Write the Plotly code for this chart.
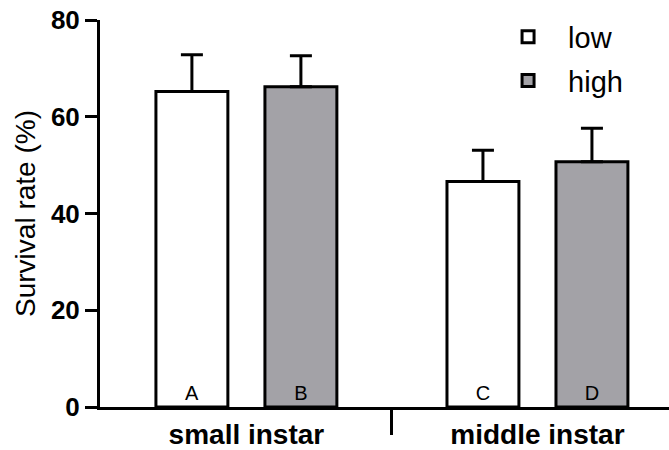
import plotly.graph_objects as go

groups = ["small instar", "middle instar"]
group_pos = [0, 1]
low_vals = [65.2, 46.6]
high_vals = [66.2, 50.7]
low_err = [7.6, 6.5]
high_err = [6.4, 6.9]
low_letters = ["A", "C"]
high_letters = ["B", "D"]
y_ticks = [0, 20, 40, 60, 80]
divider_pos = [0.5]

FONT = "Liberation Sans, Arial, sans-serif"

fig = go.Figure()
series = [
    ("low", low_vals, low_err, low_letters, "white"),
    ("high", high_vals, high_err, high_letters, "#a3a2a7"),
]
for name, vals, errs, letters, color in series:
    fig.add_trace(go.Bar(
        x=group_pos, y=vals, name=name, legendgroup=name,
        marker=dict(color=color, line=dict(color="black", width=3)),
        error_y=dict(type="data", array=errs, symmetric=False,
                     arrayminus=[0] * len(errs), color="black",
                     thickness=3, width=11),
        text=letters, textposition="inside", insidetextanchor="start",
        constraintext="none",
        textfont=dict(size=20, color="black", family=FONT),
    ))

fig.update_layout(
    width=669, height=450,
    margin=dict(l=100, r=0, t=20, b=43, autoexpand=False),
    paper_bgcolor="white", plot_bgcolor="white",
    barmode="group", bargap=0.251, bargroupgap=0.34,
    font=dict(family=FONT, color="black"),
    xaxis=dict(
        range=[-0.503, 1.452], tickvals=group_pos, ticktext=groups,
        ticks="", showline=True, linewidth=3, linecolor="black",
        showgrid=False, zeroline=False, ticklabelstandoff=0,
        automargin=False,
        minor=dict(tickvals=divider_pos, ticks="outside", ticklen=25,
                   tickwidth=3, tickcolor="black", showgrid=False),
        tickfont=dict(size=28, weight="bold", family=FONT, color="black"),
    ),
    yaxis=dict(
        range=[0, 80], tickvals=y_ticks, ticks="outside", ticklen=12,
        tickwidth=3, tickcolor="black", showline=True, linewidth=3,
        linecolor="black", showgrid=False, zeroline=False,
        automargin=False,
        tickfont=dict(size=26, weight="bold", family=FONT, color="black"),
        title=dict(text="Survival rate (%)", standoff=8,
                   font=dict(size=28, family=FONT, color="black")),
    ),
    legend=dict(x=0.682, y=1.022, xanchor="left", yanchor="top",
                itemwidth=70, bgcolor="rgba(0,0,0,0)", tracegroupgap=3,
                font=dict(size=29, family=FONT, color="black")),
)

fig.write_html("out.html")
